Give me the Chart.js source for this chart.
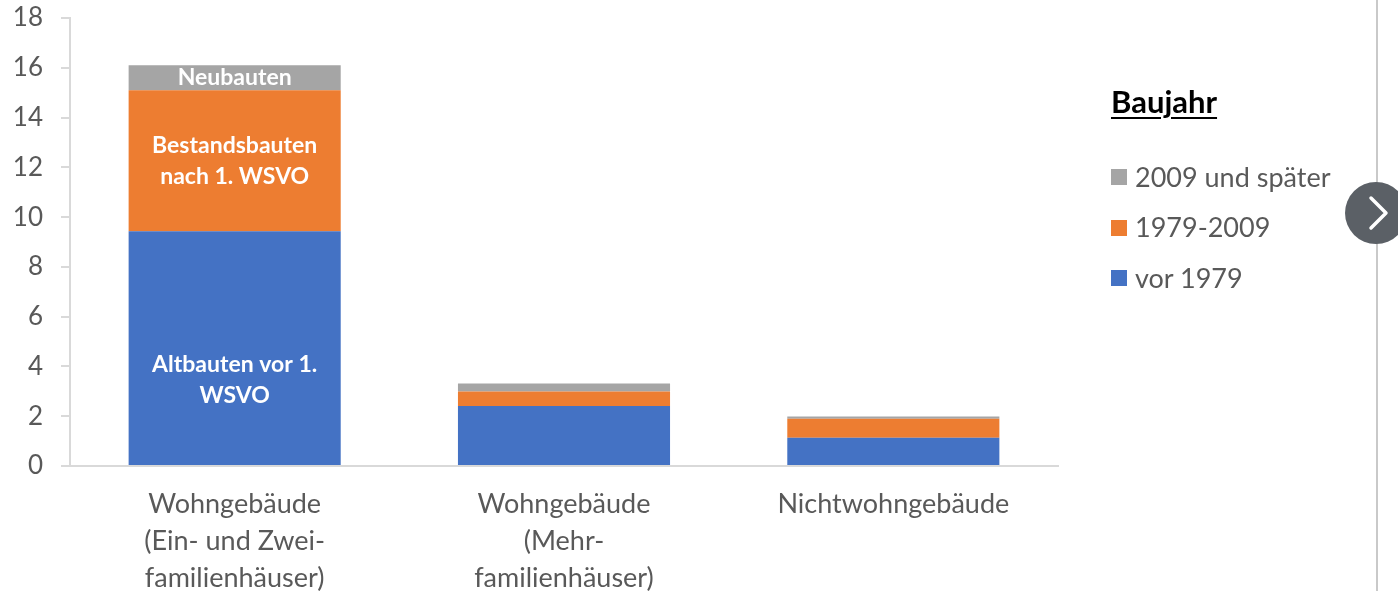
<!DOCTYPE html>
<html>
<head>
<meta charset="utf-8">
<script src="https://cdn.jsdelivr.net/npm/chart.js@4.4.1/dist/chart.umd.min.js"></script>
<style>
  html, body { margin: 0; padding: 0; background: #fff; }
  #wrap { position: relative; width: 1398px; height: 591px; overflow: hidden; font-family: Lato, "Open Sans", sans-serif; }
  #c { position: absolute; left: 0; top: 0; }
  #legend { position: absolute; left: 1111px; top: 81px; color: #595959; }
  #legend .title { font-weight: bold; font-size: 31px; color: #000; text-decoration: underline; text-underline-offset: 4px; text-decoration-thickness: 2px; margin-bottom: 30px; line-height: 40px; }
  #legend .item { display: flex; align-items: center; font-size: 27px; height: 50.5px; }
  #legend .sw { width: 16px; height: 16px; margin-right: 8px; margin-top: 2px; }
  #vline { position: absolute; left: 1376px; top: 0; width: 2px; height: 591px; background: #c9c9c9; }
  #nav { position: absolute; left: 1345px; top: 182px; width: 62px; height: 62px; border-radius: 50%; background: #5b6066; }
</style>
</head>
<body>
<div id="wrap">
  <canvas id="c" width="1398" height="591"></canvas>
  <div id="legend"></div>
  <div id="vline"></div>
  <div id="nav"><svg width="62" height="62" viewBox="0 0 62 62"><polyline points="26,16 41,31 26,46" fill="none" stroke="#fff" stroke-width="3.5" stroke-linecap="round" stroke-linejoin="round"/></svg></div>
</div>
<script>
// ---- data ----
const categories = [
  ["Wohngebäude", "(Ein- und Zwei-", "familienhäuser)"],
  ["Wohngebäude", "(Mehr-", "familienhäuser)"],
  "Nichtwohngebäude"
];
const seriesNames = ["vor 1979", "1979-2009", "2009 und später"];
const vor1979 = [9.43, 2.41, 1.14];
const von1979bis2009 = [5.67, 0.58, 0.76];
const ab2009 = [1.0, 0.32, 0.09];
const segmentLabels = [
  ["Altbauten vor 1.", "WSVO"],
  ["Bestandsbauten", "nach 1. WSVO"],
  ["Neubauten"]
];
const yTicks = [0, 2, 4, 6, 8, 10, 12, 14, 16, 18];

const colors = ["#4472C4", "#ED7D31", "#A5A5A5"];
const FONT = "Lato, 'Open Sans', sans-serif";

// legend (HTML, top-down order as in reference)
const lg = document.getElementById('legend');
lg.innerHTML = '<div class="title">Baujahr</div>' +
  [2, 1, 0].map(i => '<div class="item"><div class="sw" style="background:' + colors[i] + '"></div>' + seriesNames[i] + '</div>').join('');

const labelPlugin = {
  id: 'segLabels',
  afterDatasetsDraw(chart, args, opts) {
    const ctx = chart.ctx;
    ctx.save();
    ctx.fillStyle = '#fff';
    ctx.font = 'bold 23px ' + FONT;
    ctx.textAlign = 'center';
    ctx.textBaseline = 'middle';
    chart.data.datasets.forEach((ds, di) => {
      const el = chart.getDatasetMeta(di).data[0];
      const lines = segmentLabels[di];
      const cy = (el.y + el.base) / 2 + (opts.offsets[di] || 0);
      const lh = 31;
      lines.forEach((t, li) => {
        ctx.fillText(t, el.x, cy + (li - (lines.length - 1) / 2) * lh);
      });
    });
    ctx.restore();
  }
};

new Chart(document.getElementById('c'), {
  type: 'bar',
  data: {
    labels: categories,
    datasets: [
      { label: seriesNames[0], data: vor1979, backgroundColor: colors[0] },
      { label: seriesNames[1], data: von1979bis2009, backgroundColor: colors[1] },
      { label: seriesNames[2], data: ab2009, backgroundColor: colors[2] }
    ]
  },
  options: {
    responsive: false,
    animation: false,
    events: [],
    layout: { padding: { left: 0, right: 340, top: 18, bottom: 0 } },
    datasets: { bar: { categoryPercentage: 1.0, barPercentage: 0.644 } },
    plugins: {
      legend: { display: false },
      tooltip: { enabled: false },
      segLabels: { offsets: [32, 0, 0] }
    },
    scales: {
      x: {
        stacked: true,
        grid: { display: false, drawTicks: false },
        border: { display: true, color: '#d9d9d9', width: 2 },
        ticks: { color: '#595959', font: { family: FONT, size: 27, lineHeight: 1.36 }, padding: 20, maxRotation: 0, autoSkip: false },
        afterFit(s) { s.height = 125; s.paddingLeft = 0; s.paddingRight = 0; }
      },
      y: {
        stacked: true,
        min: 0, max: 18,
        afterBuildTicks(s) { s.ticks = yTicks.map(v => ({ value: v })); },
        grid: { display: true, drawOnChartArea: false, drawTicks: true, tickLength: 9, color: '#d9d9d9', lineWidth: 2 },
        border: { display: true, color: '#d9d9d9', width: 2 },
        ticks: { color: '#595959', font: { family: FONT, size: 26 }, padding: 18 },
        afterFit(s) { s.width = 70; s.paddingTop = 0; s.paddingBottom = 0; }
      }
    }
  },
  plugins: [labelPlugin]
});
</script>
</body>
</html>
